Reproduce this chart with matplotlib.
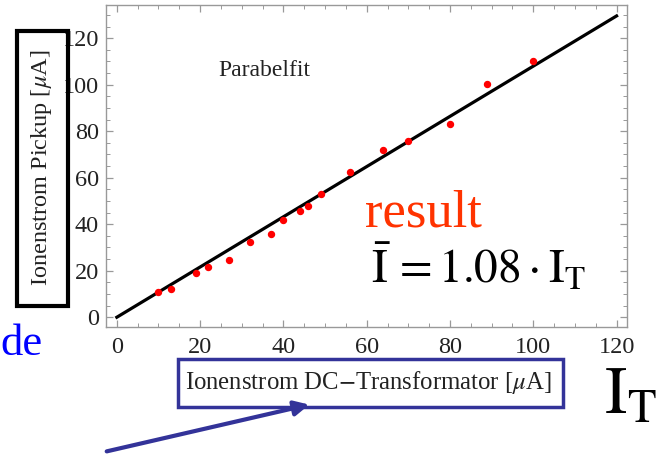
import matplotlib
matplotlib.use('Agg')
import matplotlib.pyplot as plt
from matplotlib.patches import Rectangle, FancyArrowPatch
from matplotlib.ticker import MultipleLocator

# Schriften: Times-ähnlich
plt.rcParams['font.family'] = ['Liberation Serif', 'DejaVu Serif']
plt.rcParams['mathtext.fontset'] = 'stix'

# Messdaten: DC-Transformator vs. Pickup (µA)
dc_trafo = [10, 13, 19, 22, 27, 32, 37, 40, 44, 46, 49, 56, 64, 70, 80, 89, 100]
pickup = [10.8, 12.3, 19.2, 21.5, 24.5, 32.4, 35.8, 41.8, 45.7, 47.9, 52.9,
          62.6, 72.0, 76.0, 83.0, 100.5, 110.2]

# Fit-Gerade
fit_slope = 1.08
fit_x = [0, 120]

x_ticks = [0, 20, 40, 60, 80, 100, 120]
y_ticks = [0, 20, 40, 60, 80, 100, 120]

W, H = 659, 457
fig = plt.figure(figsize=(W / 100, H / 100), dpi=100)

def fx(px):
    return px / W

def fy(py):
    return 1 - py / H

ax = fig.add_axes([fx(106), fy(327), (627 - 106) / W, (327 - 5) / H])
ax.plot(fit_x, [fit_slope * v for v in fit_x], color='black', lw=2.3, zorder=2)
ax.plot(dc_trafo, pickup, 'o', color='red', ms=4.3, zorder=3)

ax.set_xlim(-2.6, 122.5)
ax.set_ylim(-4.2, 134.3)
ax.set_xticks(x_ticks)
ax.set_yticks(y_ticks)
ax.xaxis.set_minor_locator(MultipleLocator(5))
ax.yaxis.set_minor_locator(MultipleLocator(5))
ax.tick_params(which='both', direction='in', top=True, right=True,
               color='#999999', labelsize=17.5, labelcolor='#222222')
ax.tick_params(axis='x', pad=7)
ax.tick_params(axis='y', pad=5)
ax.tick_params(which='major', length=5, width=0.9)
ax.tick_params(which='minor', length=3, width=0.7)
for s in ax.spines.values():
    s.set_color('#999999')
    s.set_linewidth(1.0)

ax.text(fx(264), fy(70), 'Parabelfit', transform=fig.transFigure,
        ha='center', va='center', fontsize=17, color='#222222')

# Achsenbeschriftungen mit Rahmen
fig.text(fx(42), fy(168), r'Ionenstrom Pickup [$\mu$A]', rotation=90,
         ha='center', va='center', fontsize=17.5, color='#222222')
fig.add_artist(Rectangle((fx(17), fy(306)), (68 - 17) / W, (306 - 31) / H,
                         transform=fig.transFigure, fill=False,
                         edgecolor='black', lw=3))

fig.text(fx(368), fy(383), r'Ionenstrom DC$-$Transformator [$\mu$A]',
         ha='center', va='center', fontsize=17.8, color='#222222')
fig.add_artist(Rectangle((fx(178), fy(407)), (563 - 178) / W, (407 - 359) / H,
                         transform=fig.transFigure, fill=False,
                         edgecolor='#333399', lw=2.5))

# Pfeil
fig.add_artist(FancyArrowPatch((fx(104), fy(452)), (fx(312), fy(404)),
                               transform=fig.transFigure, arrowstyle='-|>',
                               mutation_scale=22, lw=3, color='#333399'))

# Ergebnis
fig.text(fx(365), fy(226), 'result', ha='left', va='baseline',
         fontsize=38, color='#ff3300')
fig.text(fx(371), fy(284),
         r'$\bar{\mathrm{I}}\,=1.08\cdot\mathrm{I}_{\mathrm{T}}$',
         ha='left', va='baseline', fontsize=34, color='black')
fig.text(fx(604), fy(413), r'$\mathrm{I}_{\mathrm{T}}$', ha='left', va='baseline',
         fontsize=48, color='black')
fig.text(fx(0), fy(355), 'de', ha='left', va='baseline', fontsize=32,
         color='#0000ff')

fig.savefig('out.png', dpi=100)
